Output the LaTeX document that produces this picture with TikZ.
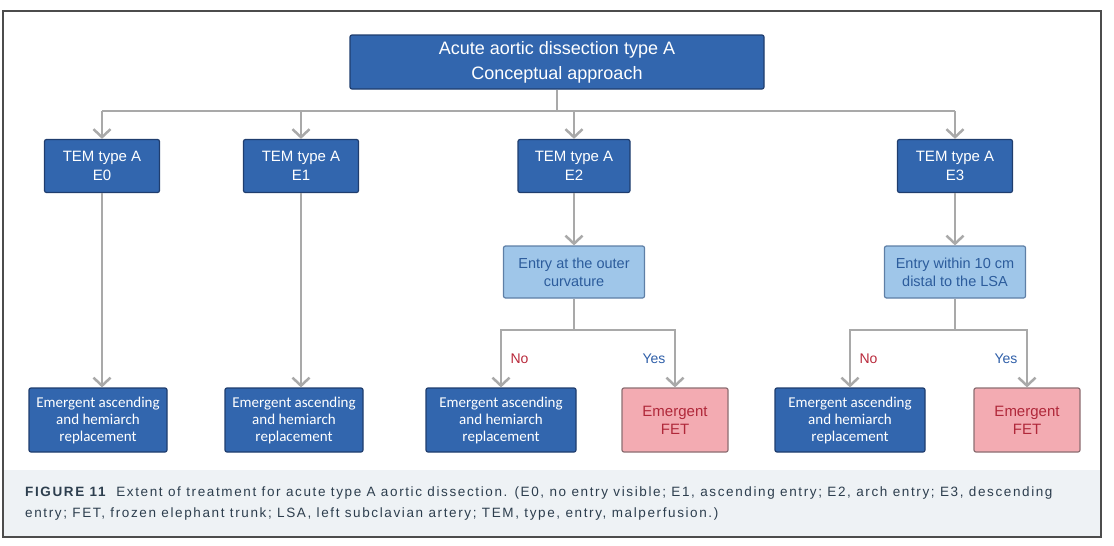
\documentclass[tikz,border=0pt]{standalone}
\usepackage{fontspec}
\setmainfont{Liberation Sans}
\newfontfamily\calfont{Carlito}
\newfontfamily\capfont[LetterSpace=12]{Liberation Sans}
\usetikzlibrary{positioning,arrows.meta}
\definecolor{darkbox}{HTML}{3266AE}
\definecolor{darkedge}{HTML}{1F3D6E}
\definecolor{lightbox}{HTML}{9FC6E9}
\definecolor{lightedge}{HTML}{5E7FA6}
\definecolor{lighttext}{HTML}{2C5C9C}
\definecolor{pinkbox}{HTML}{F3ABB2}
\definecolor{pinkedge}{HTML}{8C6E72}
\definecolor{pinktext}{HTML}{B0283A}
\definecolor{linkgray}{HTML}{A9A9A9}
\definecolor{capbg}{HTML}{EEF2F5}
\definecolor{captext}{HTML}{2D3E4E}
\definecolor{noRed}{HTML}{B8283A}
\definecolor{yesBlue}{HTML}{2E5EA8}

\begin{document}
\begin{tikzpicture}[
    x=1pt, y=-1pt,
    box/.style={draw, rectangle, rounded corners=2pt, line width=1.2pt, align=center, inner sep=0pt},
    head/.style={box, draw=darkedge, fill=darkbox, text=white, minimum width=414pt, minimum height=54pt, font=\fontsize{18}{25}\selectfont},
    tem/.style={box, draw=darkedge, fill=darkbox, text=white, minimum width=115pt, minimum height=53pt, font=\fontsize{15}{19}\selectfont},
    query/.style={box, draw=lightedge, fill=lightbox, text=lighttext, minimum width=141pt, minimum height=52pt, font=\fontsize{14.5}{18}\selectfont},
    treat/.style={box, draw=darkedge, fill=darkbox, text=white, minimum height=64pt, font=\calfont\fontsize{15}{17}\selectfont},
    fet/.style={box, draw=pinkedge, fill=pinkbox, text=pinktext, minimum width=106pt, minimum height=64pt, font=\fontsize{15}{18}\selectfont},
    link/.style={draw=linkgray, line width=2.5pt},
    arr/.style={link, -{Straight Barb[length=8pt,width=17pt]}},
    no/.style={text=noRed, font=\fontsize{14}{16}\selectfont},
    yes/.style={text=yesBlue, font=\fontsize{14}{16}\selectfont}
]
\useasboundingbox (0,0) rectangle (1114,546);

% frame and caption band
\fill[capbg] (4,470) rectangle (1100,536);
\draw[line width=2pt, draw=black!70] (3,11) rectangle (1101,537);

% top
\node[head] (top) at (557,62) {Acute aortic dissection type A\\Conceptual approach};

% TEM classes
\node[tem] (E0) at (102,166) {TEM type A\\E0};
\node[tem] (E1) at (301,166) {TEM type A\\E1};
\node[tem, minimum width=112pt] (E2) at (574,166) {TEM type A\\E2};
\node[tem] (E3) at (955,166) {TEM type A\\E3};

% entry questions
\node[query] (Q2) at (574,272) {Entry at the outer\\curvature};
\node[query] (Q3) at (955,272) {Entry within 10 cm\\distal to the LSA};

% treatments
\node[treat, minimum width=138pt] (B0) at (98,420) {Emergent ascending\\and hemiarch\\replacement};
\node[treat, minimum width=138pt] (B1) at (294,420) {Emergent ascending\\and hemiarch\\replacement};
\node[treat, minimum width=150pt] (B2) at (501,420) {Emergent ascending\\and hemiarch\\replacement};
\node[fet] (F2) at (675,420) {Emergent\\FET};
\node[treat, minimum width=150pt] (B3) at (850,420) {Emergent ascending\\and hemiarch\\replacement};
\node[fet] (F3) at (1027,420) {Emergent\\FET};

% connectors
\coordinate (hub) at (557,111);
\coordinate (fork2) at (574,330);
\coordinate (fork3) at (955,330);
\draw[link] (top) -- (hub);
\draw[link] (E0 |- hub) -- (E3 |- hub);
\foreach \t in {E0,E1,E2,E3}
  \draw[arr] (\t |- hub) -- (\t.north);
\draw[arr] (E0) -- (E0 |- B0.north);
\draw[arr] (E1) -- (E1 |- B1.north);
\draw[arr] (E2) -- (Q2);
\draw[arr] (E3) -- (Q3);
\draw[link] (Q2) -- (fork2);
\draw[link] (Q3) -- (fork3);
\draw[arr] (fork2) -| node[pos=0.75, right=5pt, no] {No} (B2.north);
\draw[arr] (fork2) -| node[pos=0.75, left=5pt, yes] {Yes} (F2.north);
\draw[arr] (fork3) -| node[pos=0.75, right=5pt, no] {No} (B3.north);
\draw[arr] (fork3) -| node[pos=0.75, left=5pt, yes] {Yes} (F3.north);

% caption
\node[anchor=north west, align=left, inner sep=0pt, text=captext, font=\capfont\fontsize{13.5}{21}\selectfont] (cap) at (25,487)
{{\bfseries FIGURE 11}\ \ Extent of treatment for acute type A aortic dissection. (E0, no entry visible; E1, ascending entry; E2, arch entry; E3, descending\\
entry; FET, frozen elephant trunk; LSA, left subclavian artery; TEM, type, entry, malperfusion.)};

\end{tikzpicture}
\end{document}
